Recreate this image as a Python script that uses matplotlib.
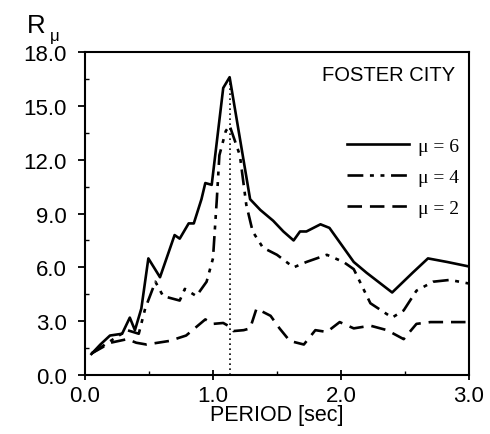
import numpy as np
import matplotlib
matplotlib.use("Agg")
import matplotlib.pyplot as plt
from matplotlib.ticker import MultipleLocator

# Foster City - strength reduction factor vs period
period_mu6 = [0.05, 0.12, 0.195, 0.29, 0.35, 0.39, 0.44, 0.495, 0.586, 0.70, 0.74,
              0.81, 0.85, 0.91, 0.94, 0.99, 1.08, 1.13, 1.21, 1.29, 1.37, 1.47,
              1.55, 1.63, 1.68, 1.73, 1.84, 1.91, 2.10, 2.20, 2.40, 2.56, 2.68,
              2.83, 3.0]
r_mu6 = [1.17, 1.7, 2.2, 2.3, 3.2, 2.5, 3.7, 6.5, 5.45, 7.8, 7.6,
         8.45, 8.45, 9.8, 10.7, 10.6, 16.0, 16.6, 13.2, 9.8, 9.2, 8.6,
         8.0, 7.5, 8.0, 8.0, 8.4, 8.2, 6.3, 5.7, 4.6, 5.7, 6.5,
         6.3, 6.05]

period_mu4 = [0.05, 0.2, 0.33, 0.42, 0.47, 0.55, 0.61, 0.74, 0.78, 0.87, 0.95,
              1.0, 1.03, 1.05, 1.10, 1.13, 1.21, 1.26, 1.31, 1.39, 1.5, 1.63,
              1.73, 1.89, 2.02, 2.10, 2.23, 2.40, 2.49, 2.59, 2.72, 2.85, 3.0]
r_mu4 = [1.2, 1.9, 2.5, 2.3, 3.7, 5.2, 4.4, 4.15, 4.8, 4.4, 5.2,
         6.5, 9.8, 12.25, 13.6, 13.9, 12.25, 9.5, 8.0, 7.1, 6.7, 6.0,
         6.3, 6.7, 6.3, 5.9, 4.0, 3.2, 3.6, 4.7, 5.2, 5.3, 5.1]

period_mu2 = [0.05, 0.2, 0.33, 0.4, 0.48, 0.66, 0.79, 0.94, 1.0, 1.08, 1.13,
              1.16, 1.24, 1.29, 1.34, 1.45, 1.52, 1.6, 1.71, 1.80, 1.89, 1.99,
              2.10, 2.23, 2.36, 2.49, 2.59, 2.70, 3.0]
r_mu2 = [1.2, 1.8, 2.0, 1.8, 1.7, 1.9, 2.2, 3.1, 2.85, 2.9, 2.7,
         2.45, 2.5, 2.6, 3.7, 3.3, 2.6, 1.9, 1.7, 2.5, 2.4, 2.95,
         2.6, 2.75, 2.5, 2.0, 2.85, 2.95, 2.95]

peak_period = 1.13
peak_value = 16.5

sans = "Liberation Sans"
serif = "Liberation Serif"

fig = plt.figure(figsize=(4.9, 4.35), dpi=100)
ax = fig.add_axes([0.1735, 0.1356, 0.7835, 0.7424])

ax.plot(period_mu6, r_mu6, color="black", lw=1.9, label="μ = 6")
ax.plot(period_mu4, r_mu4, color="black", lw=1.9,
        dashes=(6, 2.5, 1.5, 2.5, 1.5, 2.5), label="μ = 4")
ax.plot(period_mu2, r_mu2, color="black", lw=1.9, dashes=(5.5, 3), label="μ = 2")
ax.plot([peak_period, peak_period], [0, peak_value], color="black", lw=1.2,
        linestyle=(0, (1, 2)))

ax.set_xlim(0, 3.0)
ax.set_ylim(0, 18.0)
ax.set_xticks([0, 1, 2, 3])
ax.set_xticklabels(["0.0", "1.0", "2.0", "3.0"])
ax.set_yticks(np.arange(0, 18.1, 3))
ax.set_yticklabels([f"{v:.1f}" for v in np.arange(0, 18.1, 3)])
ax.xaxis.set_minor_locator(MultipleLocator(0.5))
ax.yaxis.set_minor_locator(MultipleLocator(1.5))

for s in ax.spines.values():
    s.set_linewidth(1.5)

ax.tick_params(which="major", direction="out", length=5, width=1.3,
               labelsize=16, pad=3)
ax.tick_params(axis="y", which="major", pad=8)
ax.tick_params(which="minor", direction="in", length=3, width=1.0)
ax.tick_params(axis="x", which="major", direction="inout", length=7, pad=4)
for lab in ax.get_xticklabels() + ax.get_yticklabels():
    lab.set_fontfamily(sans)

ax.set_xlabel("PERIOD [sec]", fontsize=15.5, family=sans, labelpad=-2)

fig.text(0.055, 0.925, "R", fontsize=18.5, family=sans, ha="left", va="baseline")
fig.text(0.102, 0.905, "μ", fontsize=12, family=sans, ha="left", va="baseline")

ax.text(0.965, 0.96, "FOSTER CITY", transform=ax.transAxes, fontsize=14.5,
        family=sans, ha="right", va="top")

ax.legend(loc="upper right", bbox_to_anchor=(0.975, 0.735), frameon=False,
          prop={"family": serif, "size": 14}, handlelength=3.2,
          handletextpad=0.45, labelspacing=0.68, borderpad=0, borderaxespad=0)

fig.savefig("out.png", dpi=100)
